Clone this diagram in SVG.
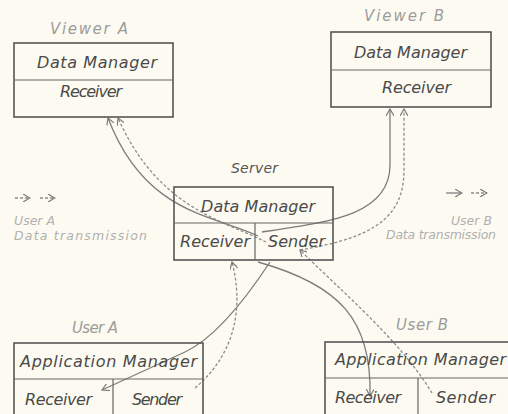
<svg xmlns="http://www.w3.org/2000/svg" width="508" height="414" viewBox="0 0 508 414">
<style>
.bx{fill:none;stroke:#555;stroke-width:1.6}
.dv{fill:none;stroke:#666;stroke-width:1.2}
.t{font-family:"DejaVu Sans",sans-serif;font-style:italic;font-size:16px;fill:#4a4a4a}
.lb{font-family:"DejaVu Sans",sans-serif;font-style:italic;font-size:15px;fill:#9c9c9c}
.lg{font-family:"DejaVu Sans",sans-serif;font-style:italic;font-size:12.5px;fill:#b0b0b0}
.ln{fill:none;stroke:#7c7c7c;stroke-width:1.3}
.dt{fill:none;stroke:#8c8c8c;stroke-width:1.3;stroke-dasharray:3 2}
</style>
<defs>
<marker id="ah" viewBox="0 0 8 8" refX="7" refY="4" markerWidth="8" markerHeight="8" markerUnits="userSpaceOnUse" orient="auto">
<path d="M0,0 L7,4 L0,8" fill="none" stroke="#7c7c7c" stroke-width="1.2"/>
</marker>
</defs>
<rect width="508" height="414" fill="#fdfbf1"/>

<g id="connectors">
<path class="ln" d="M 258 236 C 215 215, 145 215, 108 118" marker-end="url(#ah)"/>
<path class="dt" d="M 266 242 C 222 220, 158 208, 118 118" marker-end="url(#ah)"/>
<path class="ln" d="M 262 232 C 330 222, 390 215, 390 165 L 390 109" marker-end="url(#ah)"/>
<path class="dt" d="M 300 250 C 370 238, 404 220, 404 170 L 404 109" marker-end="url(#ah)"/>
<path class="ln" d="M 270 262 C 245 300, 215 338, 185 352 L 102 390" marker-end="url(#ah)"/>
<path class="dt" d="M 195 388 C 240 350, 242 300, 232 262" marker-end="url(#ah)"/>
<path class="ln" d="M 258 262 C 340 285, 372 320, 370 396" marker-end="url(#ah)"/>
<path class="dt" d="M 432 393 C 400 340, 340 290, 300 250" marker-end="url(#ah)"/>
</g>

<g id="viewerA">
<text class="lb" x="50" y="34" textLength="78">Viewer A</text>
<rect class="bx" x="14" y="43" width="159" height="74"/>
<line class="dv" x1="14" y1="80" x2="173" y2="80"/>
<text class="t" x="37" y="68" textLength="120">Data Manager</text>
<text class="t" x="60" y="97" textLength="62">Receiver</text>
</g>

<g id="viewerB">
<text class="lb" x="364" y="21" textLength="80">Viewer B</text>
<rect class="bx" x="331" y="32" width="160" height="75"/>
<line class="dv" x1="331" y1="70" x2="491" y2="70"/>
<text class="t" x="354" y="58" textLength="113">Data Manager</text>
<text class="t" x="382" y="93" textLength="69">Receiver</text>
</g>

<g id="server">
<text class="t" x="231" y="173" textLength="47" style="font-size:14px;fill:#555">Server</text>
<rect class="bx" x="174" y="187" width="159" height="73"/>
<line class="dv" x1="174" y1="223" x2="333" y2="223"/>
<line class="dv" x1="255" y1="223" x2="255" y2="260"/>
<text class="t" x="201" y="212" textLength="114">Data Manager</text>
<text class="t" x="180" y="247" textLength="70">Receiver</text>
<text class="t" x="268" y="247" textLength="57">Sender</text>
</g>

<g id="userA">
<text class="lb" x="72" y="333" textLength="46">User A</text>
<rect class="bx" x="14" y="343" width="189" height="76"/>
<line class="dv" x1="14" y1="379" x2="203" y2="379"/>
<line class="dv" x1="113" y1="379" x2="113" y2="419"/>
<text class="t" x="20" y="367" textLength="177">Application Manager</text>
<text class="t" x="25" y="405" textLength="67">Receiver</text>
<text class="t" x="132" y="405" textLength="50">Sender</text>
</g>

<g id="userB">
<text class="lb" x="396" y="330" textLength="52">User B</text>
<rect class="bx" x="325" y="342" width="190" height="80"/>
<line class="dv" x1="325" y1="378" x2="515" y2="378"/>
<line class="dv" x1="418" y1="378" x2="418" y2="422"/>
<text class="t" x="335" y="365" textLength="171">Application Manager</text>
<text class="t" x="335" y="403" textLength="66">Receiver</text>
<text class="t" x="436" y="403" textLength="59">Sender</text>
</g>

<g id="legendA">
<path class="dt" d="M 15 198 L 30 198" marker-end="url(#ah)"/>
<path class="dt" d="M 40 198 L 55 198" marker-end="url(#ah)"/>
<text class="lg" x="14" y="225">User A</text>
<text class="lg" x="14" y="240" textLength="133">Data transmission</text>
</g>

<g id="legendB">
<path class="ln" d="M 446 193 L 462 193" marker-end="url(#ah)"/>
<path class="dt" d="M 471 193 L 487 193" marker-end="url(#ah)"/>
<text class="lg" x="492" y="225" text-anchor="end">User B</text>
<text class="lg" x="386" y="239" textLength="110">Data transmission</text>
</g>
</svg>
